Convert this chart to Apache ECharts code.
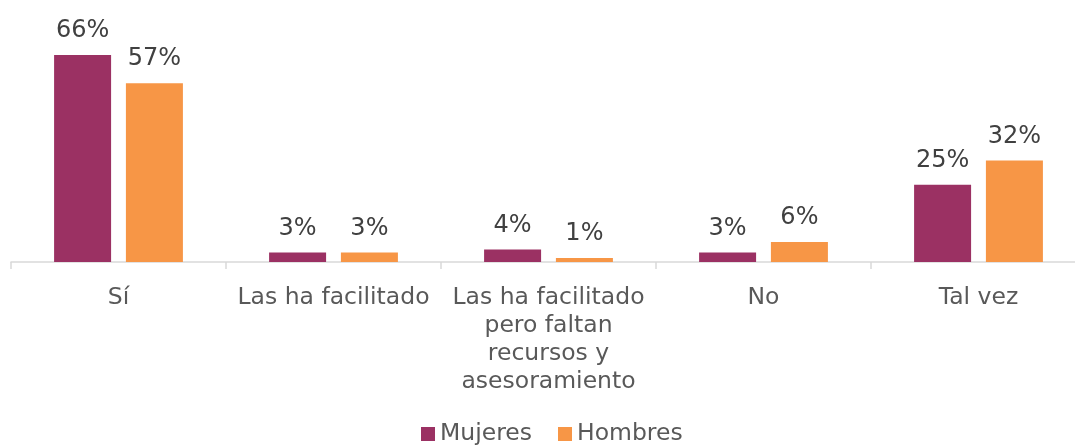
<!DOCTYPE html>
<html><head><meta charset="utf-8">
<script src="https://cdn.jsdelivr.net/npm/echarts@6/dist/echarts.min.js"></script>
<style>html,body{margin:0;padding:0;background:#fff}#c{width:1075px;height:445px}</style>
</head><body><div id="c"></div>
<script>
const categories = ['Sí', 'Las ha facilitado', 'Las ha facilitado\npero faltan\nrecursos y\nasesoramiento', 'No', 'Tal vez'];
const mujeres = [66, 3, 4, 3, 24.6];
const hombres = [57, 3, 1.3, 6.4, 32.4];
const seriesNames = ['Mujeres', 'Hombres'];

const chart = echarts.init(document.getElementById('c'));
const font = 'DejaVu Sans';
const lbl = {
  show: true, position: 'top', distance: 12,
  color: '#404040', fontSize: 24, fontFamily: font,
  formatter: p => Math.round(p.value) + '%'
};
chart.setOption({
  animation: false,
  textStyle: { fontFamily: font },
  grid: { left: 11, right: -11, top: 42.5, bottom: 183, containLabel: false, outerBoundsMode: 'none' },
  legend: {
    bottom: -1, left: 421, padding: 0, itemWidth: 14, itemHeight: 14, itemGap: 26,
    icon: 'rect',
    textStyle: { fontSize: 23.5, color: '#595959', fontFamily: font },
    data: seriesNames
  },
  xAxis: {
    type: 'category', data: categories,
    axisLine: { lineStyle: { color: '#d9d9d9', width: 1.5 } },
    axisTick: { show: true, length: 7, lineStyle: { color: '#d9d9d9', width: 1.5 } },
    axisLabel: { interval: 0, fontSize: 23.5, color: '#595959', fontFamily: font, lineHeight: 28, margin: 22 }
  },
  yAxis: { type: 'value', min: 0, max: 70, show: false, splitLine: { show: false } },
  series: [
    { name: seriesNames[0], type: 'bar', data: mujeres, barWidth: 57, barGap: '26%',
      itemStyle: { color: '#9B3163' }, label: lbl },
    { name: seriesNames[1], type: 'bar', data: hombres, barWidth: 57,
      itemStyle: { color: '#F79646' }, label: lbl }
  ]
});
</script></body></html>
